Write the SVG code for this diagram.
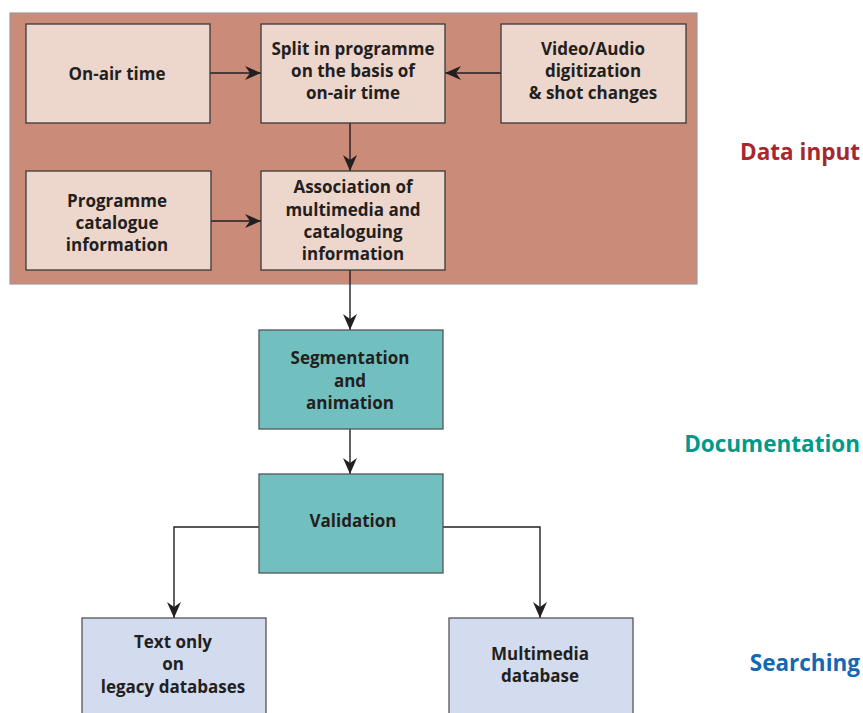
<svg xmlns="http://www.w3.org/2000/svg" width="863" height="713" viewBox="0 0 863 713">
  <style>
    .panel { fill: #CB8B79; stroke: #9a9a9a; stroke-width: 1.2; }
    .inbox { fill: #EDD6CC; stroke: #3a3a3a; stroke-width: 1.3; }
    .docbox { fill: #72BFBF; stroke: #555; stroke-width: 1.3; }
    .srchbox { fill: #D3DBEE; stroke: #555; stroke-width: 1.3; }
    .lbl { font-family: "Open Sans", "Liberation Sans", sans-serif; font-weight: bold; font-size: 17px; fill: #231f20; text-anchor: middle; }
    .stage { font-family: "Open Sans", "Liberation Sans", sans-serif; font-weight: bold; font-size: 22.5px; }
    .conn { fill: none; stroke: #231f20; stroke-width: 1.4; }
  </style>
  <defs>
    <marker id="arrow" viewBox="0 0 16 14" refX="16" refY="7" markerWidth="16" markerHeight="14" markerUnits="userSpaceOnUse" orient="auto">
      <path d="M0,0 L16,7 L0,14 L5,7 z" fill="#231f20"/>
    </marker>
  </defs>

  <rect class="panel" x="10" y="13" width="687" height="271"/>

  <g id="connectors">
    <path class="conn" d="M210,73 H261" marker-end="url(#arrow)"/>
    <path class="conn" d="M501,73 H445" marker-end="url(#arrow)"/>
    <path class="conn" d="M350,123 V171" marker-end="url(#arrow)"/>
    <path class="conn" d="M211,221 H261" marker-end="url(#arrow)"/>
    <path class="conn" d="M350,270 V330" marker-end="url(#arrow)"/>
    <path class="conn" d="M350,429 V474" marker-end="url(#arrow)"/>
    <path class="conn" d="M259,527 H174 V618" marker-end="url(#arrow)"/>
    <path class="conn" d="M443,527 H540 V618" marker-end="url(#arrow)"/>
  </g>

  <g id="on-air-time">
    <rect class="inbox" x="26" y="24" width="184" height="99"/>
    <text class="lbl" x="117" y="80">On-air time</text>
  </g>
  <g id="split-programme">
    <rect class="inbox" x="261" y="24" width="184" height="99"/>
    <text class="lbl" x="353" y="55">Split in programme</text>
    <text class="lbl" x="353" y="77">on the basis of</text>
    <text class="lbl" x="353" y="99">on-air time</text>
  </g>
  <g id="video-audio">
    <rect class="inbox" x="501" y="24" width="185" height="99"/>
    <text class="lbl" x="593" y="55">Video/Audio</text>
    <text class="lbl" x="593" y="77">digitization</text>
    <text class="lbl" x="593" y="99">&amp; shot changes</text>
  </g>
  <g id="programme-catalogue">
    <rect class="inbox" x="26" y="171" width="185" height="99"/>
    <text class="lbl" x="117" y="207">Programme</text>
    <text class="lbl" x="117" y="229">catalogue</text>
    <text class="lbl" x="117" y="251">information</text>
  </g>
  <g id="association">
    <rect class="inbox" x="261" y="171" width="184" height="99"/>
    <text class="lbl" x="353" y="193">Association of</text>
    <text class="lbl" x="353" y="216">multimedia and</text>
    <text class="lbl" x="353" y="238">cataloguing</text>
    <text class="lbl" x="353" y="260">information</text>
  </g>

  <g id="segmentation">
    <rect class="docbox" x="259" y="330" width="184" height="99"/>
    <text class="lbl" x="350" y="364">Segmentation</text>
    <text class="lbl" x="350" y="387">and</text>
    <text class="lbl" x="350" y="409">animation</text>
  </g>
  <g id="validation">
    <rect class="docbox" x="259" y="474" width="184" height="99"/>
    <text class="lbl" x="353" y="527">Validation</text>
  </g>

  <g id="text-only">
    <rect class="srchbox" x="82" y="618" width="184" height="100"/>
    <text class="lbl" x="173" y="648">Text only</text>
    <text class="lbl" x="173" y="670">on</text>
    <text class="lbl" x="173" y="693">legacy databases</text>
  </g>
  <g id="multimedia-db">
    <rect class="srchbox" x="449" y="618" width="184" height="100"/>
    <text class="lbl" x="540" y="660">Multimedia</text>
    <text class="lbl" x="540" y="682">database</text>
  </g>

  <g id="stage-labels">
    <text class="stage" x="860" y="160" text-anchor="end" fill="#A6282E">Data input</text>
    <text class="stage" x="860" y="452" text-anchor="end" fill="#009A8B">Documentation</text>
    <text class="stage" x="860" y="671" text-anchor="end" fill="#1467B3">Searching</text>
  </g>
</svg>
